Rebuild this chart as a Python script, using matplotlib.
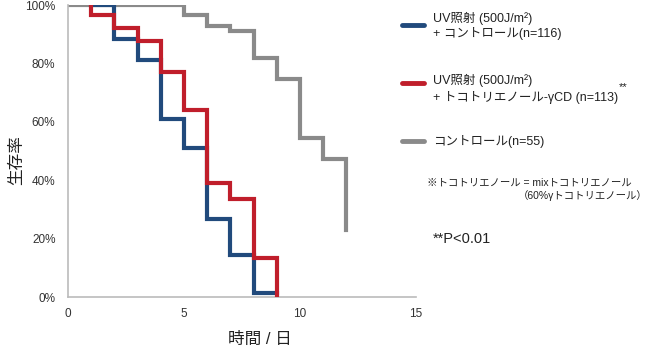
import matplotlib
matplotlib.use("Agg")
import matplotlib.pyplot as plt

plt.rcParams['font.family'] = ['Liberation Sans', 'Noto Sans CJK JP', 'DejaVu Sans']

blue_x = [1, 2, 3, 4, 5, 6, 7, 8, 9]
blue_y = [100, 88.2, 81.1, 61.1, 51.1, 26.6, 14.5, 1.5, 1.5]

red_x = [1, 2, 3, 4, 5, 6, 7, 8, 9, 9]
red_y = [96.6, 92.1, 87.7, 77.0, 64.0, 39.1, 33.6, 13.4, 0, 0]

gray_x = [0, 5, 6, 7, 8, 9, 10, 11, 12, 12]
gray_y = [100, 96.6, 92.9, 91.1, 81.7, 74.5, 54.6, 47.4, 23.1, 23.1]

x_ticks = [0, 5, 10, 15]
y_ticks = [0, 20, 40, 60, 80, 100]

c_blue = '#214A7C'
c_red = '#C01E2B'
c_gray = '#8A8A8A'

fig = plt.figure(figsize=(6.49, 3.51), dpi=100)
ax = fig.add_axes([68/649, 1 - 297/351, (416-68)/649, (297-5)/351])

ax.step(gray_x, gray_y, where='post', color=c_gray, lw=3.0, solid_joinstyle='miter', zorder=2)
ax.step(blue_x, blue_y, where='post', color=c_blue, lw=3.0, solid_joinstyle='miter', zorder=3)
rx = [1] + red_x
ry = [100] + red_y
ax.step(rx, ry, where='post', color=c_red, lw=3.0, solid_joinstyle='miter', zorder=4)

ax.set_xlim(0, 15)
ax.set_ylim(0, 100)
ax.set_xticks(x_ticks)
ax.set_yticks(y_ticks)
ax.set_yticklabels([f'{v}%' for v in y_ticks])
ax.tick_params(length=0, labelsize=8.5, colors='#333333')
ax.tick_params(axis='x', pad=8)
ax.tick_params(axis='y', pad=9)
for s in ['top', 'right']:
    ax.spines[s].set_visible(False)
for s in ['left', 'bottom']:
    ax.spines[s].set_color('#BBBBBB')
    ax.spines[s].set_linewidth(1.2)

fig.text(260/649, 1 - 339/351, '時間 / 日', ha='center', va='center', fontsize=12, color='#222222')
fig.text(17/649, 1 - 160/351, '生存率', ha='center', va='center', rotation=90, fontsize=12, color='#222222')

legend_lines = [(25, c_blue), (83, c_red), (141, c_gray)]
legend_texts = [
    (18, 'UV照射 (500J/m²)'),
    (34, '+ コントロール(n=116)'),
    (80, 'UV照射 (500J/m²)'),
    (97, '+ トコトリエノール-γCD (n=113)'),
    (142, 'コントロール(n=55)'),
]
for yy, col in legend_lines:
    fig.add_artist(plt.Line2D([402/649, 424/649], [1 - yy/351, 1 - yy/351], color=col, lw=3.5,
                              solid_capstyle='round', transform=fig.transFigure))
for yy, t in legend_texts:
    fig.text(433/649, 1 - yy/351, t, ha='left', va='center', fontsize=9, color='#222222')

fig.text(619/649, 1 - 87/351, '**', ha='left', va='center', fontsize=8, color='#222222')
fig.text(427/649, 1 - 183/351, '※トコトリエノール = mixトコトリエノール', ha='left', va='center', fontsize=7.5, color='#222222')
fig.text(648/649, 1 - 196/351, '（60%γトコトリエノール）', ha='right', va='center', fontsize=7.5, color='#222222')
fig.text(433/649, 1 - 239/351, '**P<0.01', ha='left', va='center', fontsize=10.5, color='#222222')

fig.savefig('out.png', dpi=100)
